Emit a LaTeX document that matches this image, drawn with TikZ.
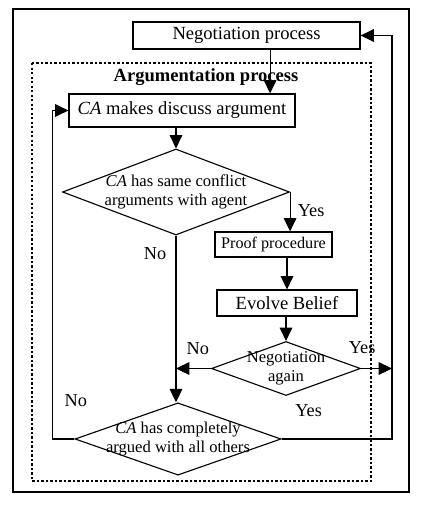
\documentclass[tikz,border=0pt]{standalone}
\usepackage{fontspec}
\setmainfont{Liberation Serif}
\usetikzlibrary{shapes.geometric, arrows.meta, calc}
\tikzstyle{block}=[draw, rectangle, line width=0.8pt, inner sep=0pt, font=\fontsize{13.2}{15}\selectfont]
\tikzstyle{decision}=[draw, diamond, line width=0.8pt, inner sep=0pt, align=center, font=\fontsize{11.8}{13.2}\selectfont]
\tikzstyle{arr}=[line width=0.8pt, -{Triangle[length=9.5pt, width=9pt]}]
\tikzstyle{lbl}=[inner sep=0pt, font=\fontsize{13}{15}\selectfont]

\begin{document}
\begin{tikzpicture}[x=0.025cm, y=-0.025cm]
    \useasboundingbox (0, 0) rectangle (423, 509);
    \draw[line width=0.8pt] (13, 9) rectangle (409, 492);
    \draw[line width=1.6pt, dash pattern=on 1.5pt off 1.7pt] (32, 63) rectangle (371, 481);
    \node[font=\fontsize{13.2}{15}\selectfont\bfseries] (title) at (206, 77) {Argumentation process};

    \node[block, minimum width=5.675cm, minimum height=0.675cm] (neg) at (246.5, 35.5) {Negotiation process};
    \node[block, minimum width=5.65cm, minimum height=0.825cm] (ca) at (182, 110.5) {\textit{CA} makes discuss argument};

    \node[decision, aspect=2.64, inner xsep=-4pt, minimum width=5.675cm, minimum height=2.15cm] (same) at (176, 192) {\textit{CA} has same conflict\\arguments with agent};
    \node[block, font=\fontsize{11.5}{13}\selectfont, minimum width=2.925cm, minimum height=0.625cm] (proof) at (273.5, 244.5) {Proof procedure};
    \node[block, minimum width=3.5cm, minimum height=0.65cm] (evolve) at (287, 303) {Evolve Belief};
    \node[decision, aspect=2.76, inner xsep=-9pt, minimum width=3.725cm, minimum height=1.35cm] (again) at (286, 368.5) {Negotiation\\again};
    \node[decision, aspect=2.85, inner xsep=-12pt, minimum width=5.125cm, minimum height=1.8cm] (done) at (178, 439) {\textit{CA} has completely\\argued with all others};

    \coordinate (rt) at (392, 368.5);

    \draw[arr] ([xshift=0.59cm]neg.south) -- ([xshift=0.59cm]neg.south |- ca.north);
    \draw[arr] (ca.south -| same.north) -- (same.north);
    \draw[arr] (same.east) -- (same.east |- proof.north);
    \draw[arr] (same.south) -- (same.south |- done.north);
    \draw[arr] (proof.south -| evolve.north) -- (evolve.north);
    \draw[arr] (evolve.south -| again.north) -- (again.north);
    \draw[arr] (again.west) -- (same.south |- again.west);
    \draw[arr] (again.east) -- (rt);
    \draw[arr] (done.east) -- (done.east -| rt) -- (rt |- neg.east) -- (neg.east);
    \draw[arr] (done.west) -- ++(-22, 0) |- (ca.west);

    \node[lbl] (yes1) at ($(same.east) + (21, 19)$) {Yes};
    \node[lbl] (no1) at ($(same.south) + (-21, 18)$) {No};
    \node[lbl] (no2) at ($(again.west) + (-13, -20)$) {No};
    \node[lbl] (yes2) at ($(again.east) + (1, -21)$) {Yes};
    \node[lbl] (yes3) at ($(done.east) + (27, -28)$) {Yes};
    \node[lbl] (no3) at ($(done.west) + (1.5, -38)$) {No};
\end{tikzpicture}
\end{document}
